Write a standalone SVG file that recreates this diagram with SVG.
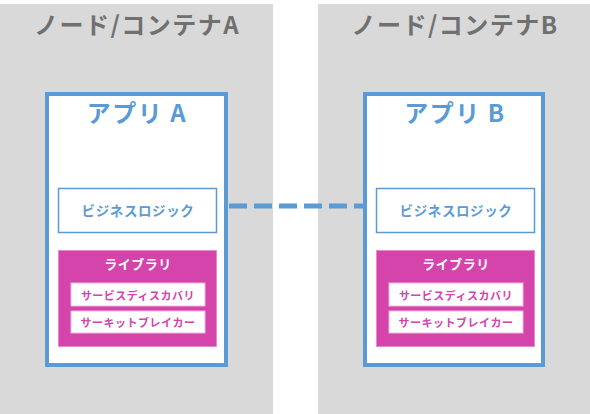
<svg xmlns="http://www.w3.org/2000/svg" width="590" height="414" viewBox="0 0 590 414">
<style>
text{font-family:"Noto Sans CJK JP","Noto Sans",sans-serif;font-weight:bold;text-anchor:middle;dominant-baseline:central}
.node{fill:#d9d9d9}
.ntitle{fill:#707070;font-size:24px;letter-spacing:1.5px}
.app{fill:#ffffff;stroke:#5b9bd5;stroke-width:4}
.atitle{fill:#5b9bd5;font-size:24px;letter-spacing:1.5px}
.biz{fill:#ffffff;stroke:#5b9bd5;stroke-width:1.5}
.biztext{fill:#5b9bd5;font-size:13.5px;letter-spacing:0.6px}
.lib{fill:#d444aa;stroke:#e58ccb;stroke-width:1}
.libtext{fill:#ffffff;font-size:13px;letter-spacing:0.5px}
.comp{fill:#ffffff;stroke:#f0b8e0;stroke-width:1}
.comptext{fill:#d444aa;font-size:11px;letter-spacing:0.5px}
.conn{stroke:#5b9bd5;stroke-width:5;stroke-dasharray:18 7;fill:none}
</style>
<g id="nodeA">
<rect class="node" x="0" y="4" width="273" height="410"/>
<text class="ntitle" x="137" y="23">ノード/コンテナA</text>
</g>
<g id="nodeB">
<rect class="node" x="318" y="4" width="272" height="410"/>
<text class="ntitle" x="455" y="23">ノード/コンテナB</text>
</g>
<g id="appA">
<rect class="app" x="47" y="94" width="179" height="271"/>
<text class="atitle" x="137" y="111">アプリ A</text>
</g>
<g id="appB">
<rect class="app" x="365" y="94" width="178" height="271"/>
<text class="atitle" x="455" y="111">アプリ B</text>
</g>
<g id="bizA">
<rect class="biz" x="58.5" y="188.5" width="158" height="44"/>
<text class="biztext" x="138" y="210">ビジネスロジック</text>
</g>
<g id="bizB">
<rect class="biz" x="376.5" y="188.5" width="158" height="44"/>
<text class="biztext" x="456" y="210">ビジネスロジック</text>
</g>
<g id="libA">
<rect class="lib" x="58.5" y="250.5" width="158" height="96"/>
<text class="libtext" x="138" y="263">ライブラリ</text>
</g>
<g id="libB">
<rect class="lib" x="376.5" y="250.5" width="158" height="96"/>
<text class="libtext" x="456" y="263">ライブラリ</text>
</g>
<g id="sdA">
<rect class="comp" x="71" y="283" width="134" height="23"/>
<text class="comptext" x="138" y="294.5">サービスディスカバリ</text>
</g>
<g id="cbA">
<rect class="comp" x="71" y="311" width="134" height="22"/>
<text class="comptext" x="138" y="322">サーキットブレイカー</text>
</g>
<g id="sdB">
<rect class="comp" x="389" y="283" width="134" height="23"/>
<text class="comptext" x="456" y="294.5">サービスディスカバリ</text>
</g>
<g id="cbB">
<rect class="comp" x="389" y="311" width="134" height="22"/>
<text class="comptext" x="456" y="322">サーキットブレイカー</text>
</g>
<g id="connectors">
<line class="conn" x1="229" y1="206" x2="363" y2="206"/>
</g>
</svg>
